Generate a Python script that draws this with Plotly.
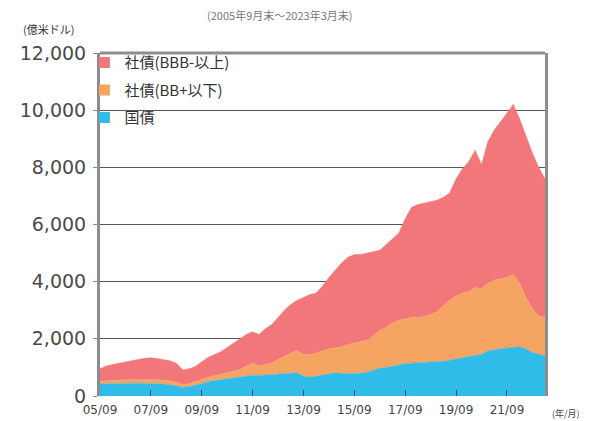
import plotly.graph_objects as go

dates = [
    "2005-09", "2005-12", "2006-03", "2006-06", "2006-09", "2006-12",
    "2007-03", "2007-06", "2007-09", "2007-12", "2008-03", "2008-06",
    "2008-09", "2008-12", "2009-03", "2009-06", "2009-09", "2009-12",
    "2010-03", "2010-06", "2010-09", "2010-12", "2011-03", "2011-06",
    "2011-09", "2011-12", "2012-03", "2012-06", "2012-09", "2012-12",
    "2013-03", "2013-06", "2013-09", "2013-12", "2014-03", "2014-06",
    "2014-09", "2014-12", "2015-03", "2015-06", "2015-09", "2015-12",
    "2016-03", "2016-06", "2016-09", "2016-12", "2017-03", "2017-06",
    "2017-09", "2017-12", "2018-03", "2018-06", "2018-09", "2018-12",
    "2019-03", "2019-06", "2019-09", "2019-12", "2020-03", "2020-06",
    "2020-09", "2020-12", "2021-03", "2021-06", "2021-09", "2021-12",
    "2022-03", "2022-06", "2022-09", "2022-12", "2023-03",
]

# 国債 (government bonds)
gov = [
    420, 430, 440, 440, 450, 450, 450, 450, 440, 430, 420, 400,
    360, 300, 320, 380, 450, 500, 540, 570, 600, 620, 650, 690,
    730, 720, 740, 750, 770, 790, 800, 810, 700, 660, 700, 750,
    790, 810, 800, 790, 780, 800, 830, 900, 980, 1000, 1050, 1100,
    1130, 1150, 1160, 1170, 1180, 1200, 1220, 1250, 1300, 1340, 1380, 1420,
    1450, 1580, 1620, 1650, 1680, 1700, 1720, 1650, 1520, 1470, 1400,
]

# 社債(BB+以下) (high yield corporates)
hy = [
    100, 110, 110, 120, 120, 120, 130, 140, 140, 140, 130, 130,
    120, 100, 110, 120, 140, 160, 180, 190, 220, 240, 270, 360,
    420, 330, 360, 400, 510, 610, 700, 770, 750, 790, 800, 830,
    860, 880, 920, 1010, 1070, 1100, 1120, 1200, 1320, 1400, 1500, 1550,
    1570, 1600, 1590, 1610, 1670, 1750, 1930, 2100, 2200, 2260, 2270, 2380,
    2300, 2370, 2430, 2450, 2470, 2550, 2230, 1800, 1530, 1330, 1350,
]

# 社債(BBB-以上) (investment grade corporates)
ig = [
    430, 510, 550, 590, 630, 680, 700, 730, 760, 740, 730, 700,
    670, 520, 520, 530, 610, 690, 730, 790, 880, 990, 1080, 1100,
    1100, 1100, 1250, 1350, 1470, 1600, 1700, 1770, 2000, 2100, 2100, 2270,
    2500, 2710, 2930, 3050, 3100, 3050, 3050, 2950, 2800, 2900, 2950, 3050,
    3500, 3850, 3950, 3970, 3950, 3900, 3800, 3750, 4100, 4350, 4550, 4800,
    4350, 4950, 5250, 5500, 5750, 5950, 5750, 5650, 5450, 5200, 4850,
]

tick_dates = ["2005-09", "2007-09", "2009-09", "2011-09", "2013-09",
              "2015-09", "2017-09", "2019-09", "2021-09"]
tick_text = ["05/09", "07/09", "09/09", "11/09", "13/09",
             "15/09", "17/09", "19/09", "21/09"]
y_ticks = [0, 2000, 4000, 6000, 8000, 10000, 12000]
y_text = ["0", "2,000", "4,000", "6,000", "8,000", "10,000", "12,000"]

names = ["社債(BBB-以上)", "社債(BB+以下)", "国債"]
colors = {"ig": "#F2777B", "hy": "#F6A462", "gov": "#30BCE8"}

fig = go.Figure()
for key, vals in (("gov", gov), ("hy", hy), ("ig", ig)):
    fig.add_trace(go.Scatter(
        x=dates, y=vals, mode="lines", stackgroup="one",
        line=dict(width=0.5, color=colors[key]), fillcolor=colors[key],
        showlegend=False, hoverinfo="skip"))

for name, key in zip(names, ("ig", "hy", "gov")):
    fig.add_trace(go.Scatter(
        x=[None], y=[None], mode="markers", name=name, legendgroup=key,
        marker=dict(symbol="square", size=11, color=colors[key])))

font_main = "DejaVu Sans, Liberation Sans, sans-serif"
font_jp = "Noto Sans CJK JP, sans-serif"

fig.update_layout(
    width=595, height=421,
    margin=dict(l=92, r=58, t=45, b=33),
    paper_bgcolor="white", plot_bgcolor="white",
    showlegend=True,
    legend=dict(x=-0.035, y=1.02, xanchor="left", yanchor="top",
                bgcolor="rgba(255,255,255,0)", borderwidth=0,
                traceorder="grouped",
                font=dict(family=font_jp, size=15, color="#333333"),
                tracegroupgap=5, itemwidth=30),
    xaxis=dict(type="date", range=["2005-09-01", "2023-03-01"],
               tickvals=tick_dates, ticktext=tick_text,
               ticks="inside", ticklen=6, tickwidth=1, tickcolor="#1d4b70",
               ticklabelstandoff=5,
               tickfont=dict(family=font_main, size=12, color="#444444"),
               showgrid=False, showline=False, zeroline=False),
    yaxis=dict(range=[0, 12000], tickvals=y_ticks, ticktext=y_text,
               ticks="outside", ticklen=4, tickcolor="#888888",
               ticklabelstandoff=3,
               tickfont=dict(family=font_main, size=19, color="#4a4a4a"),
               showgrid=True, gridcolor="#555555", gridwidth=1,
               zeroline=False, showline=True, linecolor="#8c8c8c",
               linewidth=3, mirror=True),
    shapes=[
        dict(type="rect", xref="paper", yref="y", x0=0, x1=0.378,
             y0=9600, y1=10400, fillcolor="white",
             line=dict(width=0), layer="between"),
        dict(type="line", xref="paper", yref="paper",
             x0=0, x1=1, y0=1, y1=1,
             line=dict(color="#8c8c8c", width=3)),
    ],
    annotations=[
        dict(text="(億米ドル)", xref="paper", yref="paper",
             x=-0.178, y=1.07, xanchor="left", yanchor="middle",
             showarrow=False,
             font=dict(family=font_jp, size=11, color="#333333")),
        dict(text="(年/月)", xref="paper", yref="paper",
             x=1.011, y=-0.05, xanchor="left", yanchor="middle",
             showarrow=False,
             font=dict(family=font_jp, size=9, color="#444444")),
        dict(text="(2005年9月末～2023年3月末)", xref="paper", yref="paper",
             x=0.404, y=1.112, xanchor="center", yanchor="middle",
             showarrow=False,
             font=dict(family=font_jp, size=11, color="#777777")),
    ],
)

fig.write_html("out.html")
